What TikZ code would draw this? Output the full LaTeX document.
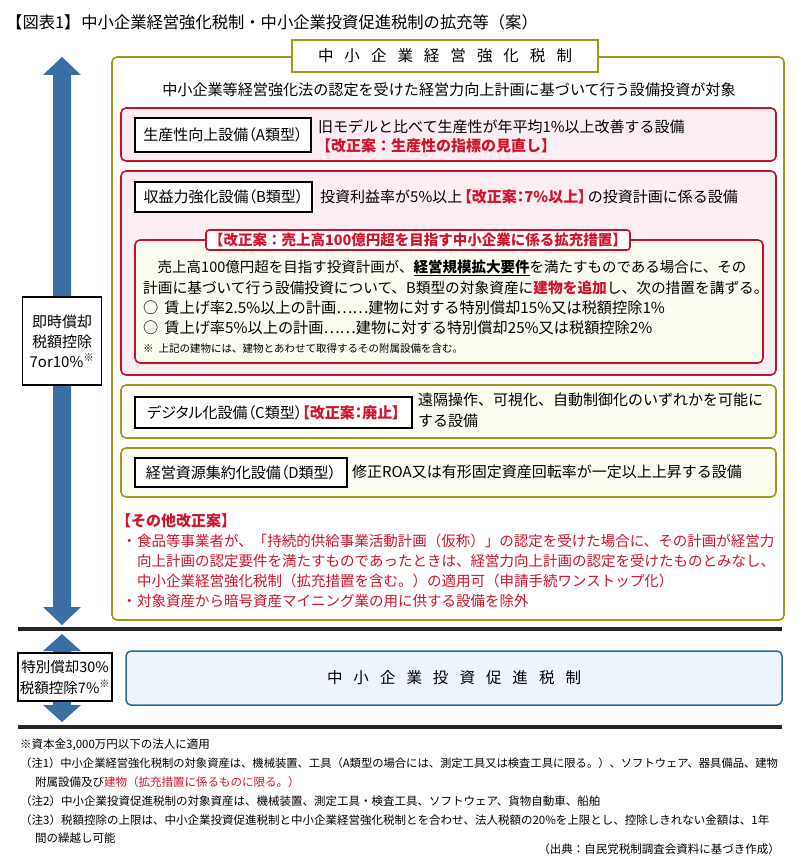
\documentclass[tikz,border=0pt]{standalone}
\usepackage{fontspec}
\setmainfont{Noto Sans CJK JP}
\newfontfamily\pfont[RawFeature=+palt]{Noto Sans CJK JP}
\definecolor{olivec}{HTML}{A09A1C}
\definecolor{kred}{HTML}{D0142C}
\definecolor{bred}{HTML}{C8102E}
\definecolor{pinkf}{HTML}{FBEEF2}
\definecolor{creamf}{HTML}{FDFCF0}
\definecolor{arrowblue}{HTML}{3A6EA5}
\definecolor{boxblue}{HTML}{2A6A9A}
\definecolor{bluef}{HTML}{EDF4FB}
\newcommand\rd[1]{\textcolor{kred}{\bfseries #1}}
\newcommand\lsp{\hspace{11pt}}
\tikzset{
  fs/.style={font=\fontsize{#1}{#1}\selectfont},
  txt/.style={inner sep=0pt, anchor=west, fs=15},
  ftxt/.style={inner sep=0pt, anchor=west, fs=11.5},
  olivebox/.style={draw=olivec, line width=1.6pt, rounded corners=5pt},
  redbox/.style={draw=bred, line width=1.6pt, fill=pinkf, rounded corners=5pt},
  crembox/.style={draw=olivec, line width=1.6pt, fill=creamf, rounded corners=5pt},
  lblbox/.style={draw=black, line width=1.6pt, fill=white, inner sep=0pt, font=\pfont\fontsize{15}{15}\selectfont},
}
\begin{document}
\begin{tikzpicture}[x=1pt,y=-1pt]
\useasboundingbox[fill=white] (0,0) rectangle (800,861);

% title
\node[txt, fs=16.3] (title) at (6,22) {【図表1】\hspace{1pt}中小企業経営強化税制・中小企業投資促進税制の拡充等（案）};

% main olive frame
\node[olivebox, fill=white, minimum width=672, minimum height=563, inner sep=0pt] (kyoka) at (448,338.5) {};
\node[draw=olivec, line width=1.6pt, fill=white, minimum width=306, minimum height=32, inner sep=0pt, fs=15.5] (kyokatitle) at (445,56)
  {中\lsp 小\lsp 企\lsp 業\lsp 経\lsp 営\lsp 強\lsp 化\lsp 税\lsp 制};
\node[inner sep=0pt, fs=15.1] (target) at (449,90) {中小企業等経営強化法の認定を受けた経営力向上計画に基づいて行う設備投資が対象};

% A
\node[redbox, minimum width=655, minimum height=53, inner sep=0pt] (boxA) at (448.5,134.5) {};
\node[lblbox, minimum width=176, minimum height=34] (lblA) at (223,135) {生産性向上設備（A類型）};
\node[txt] (txtA1) at (318,127) {旧モデルと比べて生産性が年平均1\%以上改善する設備};
\node[txt] (txtA2) at (316,146) {\rd{【改正案：生産性の指標の見直し】}};

% B
\node[redbox, minimum width=655, minimum height=204, inner sep=0pt] (boxB) at (448.5,273) {};
\node[lblbox, minimum width=177, minimum height=30] (lblB) at (223.5,197) {収益力強化設備（B類型）};
\node[txt] (txtB) at (320,197) {投資利益率が5\%以上\hspace{2pt}{\pfont\rd{【改正案：7\%以上】}}\hspace{2pt}の投資計画に係る設備};

\node[draw=bred, line width=1.6pt, fill=creamf, rounded corners=5pt, minimum width=628, minimum height=123, inner sep=0pt] (inner) at (449,301.5) {};
\node[draw=bred, line width=1.6pt, fill=white, rounded corners=3pt, inner sep=3pt, fs=14.5] (innertitle) at (418,240) {\rd{【改正案：売上高100億円超を目指す中小企業に係る拡充措置】}};
\node[txt, fs=14.5] (in1) at (143,268) {　売上高100億円超を目指す投資計画が、\underline{\textbf{経営規模拡大要件}}を満たすものである場合に、その};
\node[txt, fs=14.7] (in2) at (143,288) {計画に基づいて行う設備投資について、B類型の対象資産に\rd{建物を追加}し、次の措置を講ずる。};
\node[txt, fs=15.2] (in3) at (143,308) {○\hspace{6pt}賃上げ率2.5\%以上の計画……建物に対する特別償却15\%又は税額控除1\%};
\node[txt, fs=15.2] (in4) at (143,328) {○\hspace{6pt}賃上げ率5\%以上の計画……建物に対する特別償却25\%又は税額控除2\%};
\node[txt, fs=10.5] (in5) at (143,349) {※\hspace{5pt}上記の建物には、建物とあわせて取得するその附属設備を含む。};

% C
\node[crembox, minimum width=655, minimum height=53, inner sep=0pt] (boxC) at (448.5,411.5) {};
\node[lblbox, minimum width=277, minimum height=31] (lblC) at (273.5,412.5) {デジタル化設備（C類型）\rd{【改正案：廃止】}};
\node[txt] (txtC1) at (418,400) {遠隔操作、可視化、自動制御化のいずれかを可能に};
\node[txt] (txtC2) at (418,421) {する設備};

% D
\node[crembox, minimum width=655, minimum height=49, inner sep=0pt] (boxD) at (448.5,472.5) {};
\node[lblbox, minimum width=212, minimum height=29] (lblD) at (241,472.5) {経営資源集約化設備（D類型）};
\node[txt] (txtD) at (352,472) {修正ROA又は有形固定資産回転率が一定以上上昇する設備};

% other
\node[txt] (oth0) at (116,521) {\rd{【その他改正案】}};
\node[txt, fs=14.5, text=kred] (oth1) at (122,541) {\makebox[15pt][l]{・}食品等事業者が、「持続的供給事業活動計画（仮称）」の認定を受けた場合に、その計画が経営力};
\node[txt, fs=14.5, text=kred] (oth2) at (137,561) {向上計画の認定要件を満たすものであったときは、経営力向上計画の認定を受けたものとみなし、};
\node[txt, fs=14.5, text=kred] (oth3) at (137,581) {中小企業経営強化税制（拡充措置を含む。）の適用可（申請手続ワンストップ化）};
\node[txt, fs=14.5, text=kred] (oth4) at (122,601) {\makebox[15pt][l]{・}対象資産から暗号資産マイニング業の用に供する設備を除外};

% left arrow 1
\fill[arrowblue] (62,57) -- (81,75) -- (71,75) -- (71,607) -- (81,607) -- (62,625) -- (43,607) -- (53,607) -- (53,75) -- (43,75) -- cycle;
\node[draw=black, line width=1.5pt, fill=white, minimum width=79, minimum height=88, inner sep=0pt, align=center, font=\fontsize{15}{20}\selectfont] (sokuji) at (62,341)
  {即時償却\\税額控除\\7or10\%\textsuperscript{※}};

% separator lines
\coordinate (s1l) at (18,629);
\coordinate (s1r) at (782,629);
\coordinate (s2l) at (18,727);
\coordinate (s2r) at (782,727);
\draw[line width=4pt, black!85] (s1l) -- (s1r);
\draw[line width=4pt, black!85] (s2l) -- (s2r);

% left arrow 2
\fill[arrowblue] (62,634) -- (81,651) -- (71,651) -- (71,705) -- (81,705) -- (62,722) -- (43,705) -- (53,705) -- (53,651) -- (43,651) -- cycle;
\node[draw=black, line width=1.5pt, fill=white, minimum width=94, minimum height=48, inner sep=0pt, align=center, font=\fontsize{14.5}{21}\selectfont] (tokubetsu) at (65,677)
  {特別償却30\%\\税額控除7\%\textsuperscript{※}};

% blue box
\node[draw=boxblue, line width=1.5pt, fill=bluef, rounded corners=5pt, minimum width=656, minimum height=54, inner sep=0pt, fs=15.5] (sokushin) at (454,678)
  {中\lsp 小\lsp 企\lsp 業\lsp 投\lsp 資\lsp 促\lsp 進\lsp 税\lsp 制};

% footnotes
\node[ftxt] (f0) at (20,745) {※資本金3,000万円以下の法人に適用};
\node[ftxt, fs=11.3] (f1) at (20,763) {（注1）中小企業経営強化税制の対象資産は、機械装置、工具（A類型の場合には、測定工具又は検査工具に限る。）、ソフトウェア、器具備品、建物};
\node[ftxt] (f1b) at (35,782) {附属設備及び\textcolor{kred}{建物（拡充措置に係るものに限る。）}};
\node[ftxt] (f2) at (20,801) {（注2）中小企業投資促進税制の対象資産は、機械装置、測定工具・検査工具、ソフトウェア、貨物自動車、船舶};
\node[ftxt] (f3) at (20,820) {（注3）税額控除の上限は、中小企業投資促進税制と中小企業経営強化税制とを合わせ、法人税額の20\%を上限とし、控除しきれない金額は、1年};
\node[ftxt] (f3b) at (35,838) {間の繰越し可能};
\node[ftxt, anchor=east] (src) at (780,849) {（出典：自民党税制調査会資料に基づき作成）};
\end{tikzpicture}
\end{document}
